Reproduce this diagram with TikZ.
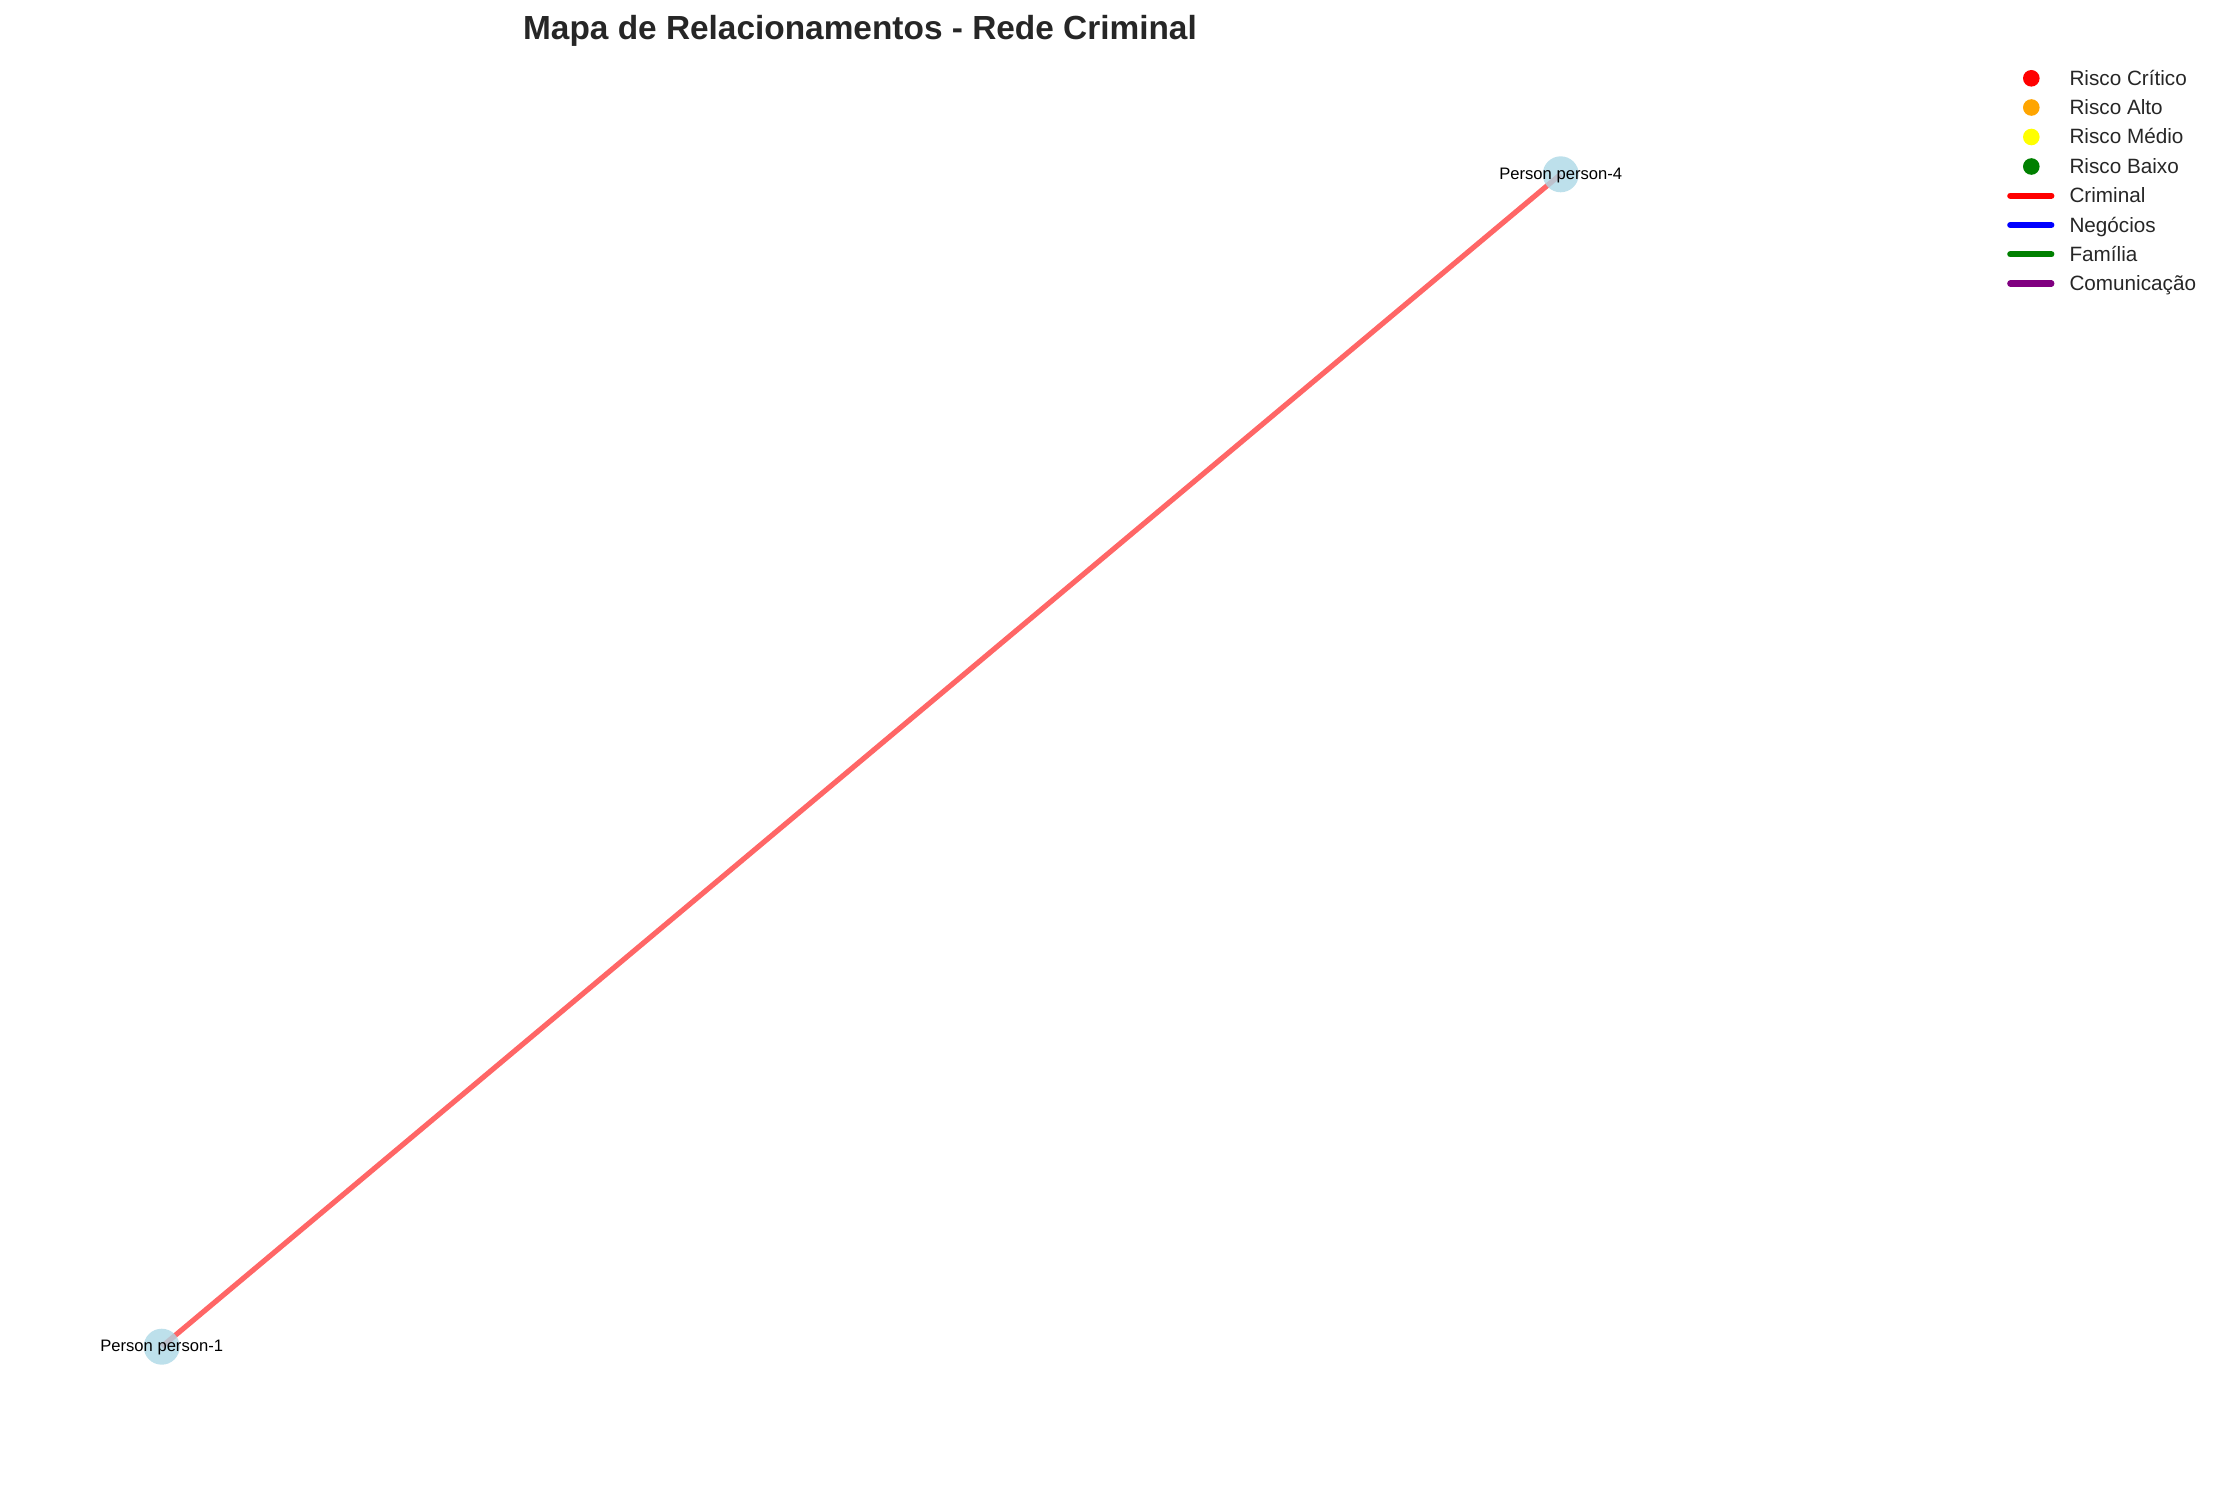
\documentclass[tikz,border=0pt]{standalone}
\usepackage{fontspec}
\setmainfont{Liberation Sans}
\usetikzlibrary{backgrounds}
\definecolor{edgered}{RGB}{255,102,102}
\definecolor{nodeblue}{RGB}{173,216,230}
\definecolor{txtgray}{RGB}{38,38,38}
\definecolor{mplorange}{RGB}{255,165,0}
\definecolor{mplyellow}{RGB}{255,255,0}
\definecolor{mplgreen}{RGB}{0,128,0}
\definecolor{mplblue}{RGB}{0,0,255}
\definecolor{mplpurple}{RGB}{128,0,128}
\tikzset{
  person/.style={circle, fill=nodeblue, fill opacity=0.8, draw=none, minimum size=36pt, inner sep=0pt},
  plabel/.style={anchor=base, inner sep=0pt, font=\fontsize{16.6}{18}\selectfont, text=black},
  relation/.style={draw=edgered, line width=5.2pt},
  legmark/.style={circle, draw=none, minimum size=16.6pt, inner sep=0pt},
  legline/.style={line width=6.25pt, line cap=round},
  legtext/.style={anchor=base west, inner sep=0pt, font=\fontsize{20.7}{24}\selectfont, text=txtgray},
  titlestyle/.style={anchor=base, inner sep=0pt, font=\fontsize{33.4}{38}\selectfont\bfseries, text=txtgray}
}
\begin{document}
\begin{tikzpicture}[x=1pt,y=-1pt]
\useasboundingbox (0,0) rectangle (2219,1485);
% title
\node[titlestyle] (title) at (860,39.3) {Mapa de Relacionamentos - Rede Criminal};
% persons
\node[person] (p4) at (1560.7,174.3) {};
\node[person] (p1) at (161.7,1346.7) {};
\begin{scope}[on background layer]
\draw[relation] (p1.center) -- (p4.center);
\end{scope}
\node[plabel] (l4) at (1560.7,179.3) {Person person-4};
\node[plabel] (l1) at (161.7,1351.7) {Person person-1};
% legend markers
\node[legmark, fill=red] (m1) at (2031.3,78.3) {};
\node[legmark, fill=mplorange] (m2) at (2031.3,107.5) {};
\node[legmark, fill=mplyellow] (m3) at (2031.3,137.0) {};
\node[legmark, fill=mplgreen] (m4) at (2031.3,166.5) {};
\node[legtext] (t1) at (2069.3,85.3) {Risco Crítico};
\node[legtext] (t2) at (2069.3,114.5) {Risco Alto};
\node[legtext] (t3) at (2069.3,144.0) {Risco Médio};
\node[legtext] (t4) at (2069.3,173.5) {Risco Baixo};
% legend lines
\coordinate (a1) at (2010.3,195.7); \coordinate (b1) at (2051.3,195.7);
\coordinate (a2) at (2010.3,225.0); \coordinate (b2) at (2051.3,225.0);
\coordinate (a3) at (2010.3,254.3); \coordinate (b3) at (2051.3,254.3);
\coordinate (a4) at (2010.3,283.6); \coordinate (b4) at (2051.3,283.6);
\draw[legline, draw=red] (a1) -- (b1);
\draw[legline, draw=mplblue] (a2) -- (b2);
\draw[legline, draw=mplgreen] (a3) -- (b3);
\draw[legline, draw=mplpurple] (a4) -- (b4);
\node[legtext] (t5) at (2069.3,202.7) {Criminal};
\node[legtext] (t6) at (2069.3,232.0) {Negócios};
\node[legtext] (t7) at (2069.3,261.3) {Família};
\node[legtext] (t8) at (2069.3,290.6) {Comunicação};
\end{tikzpicture}
\end{document}
